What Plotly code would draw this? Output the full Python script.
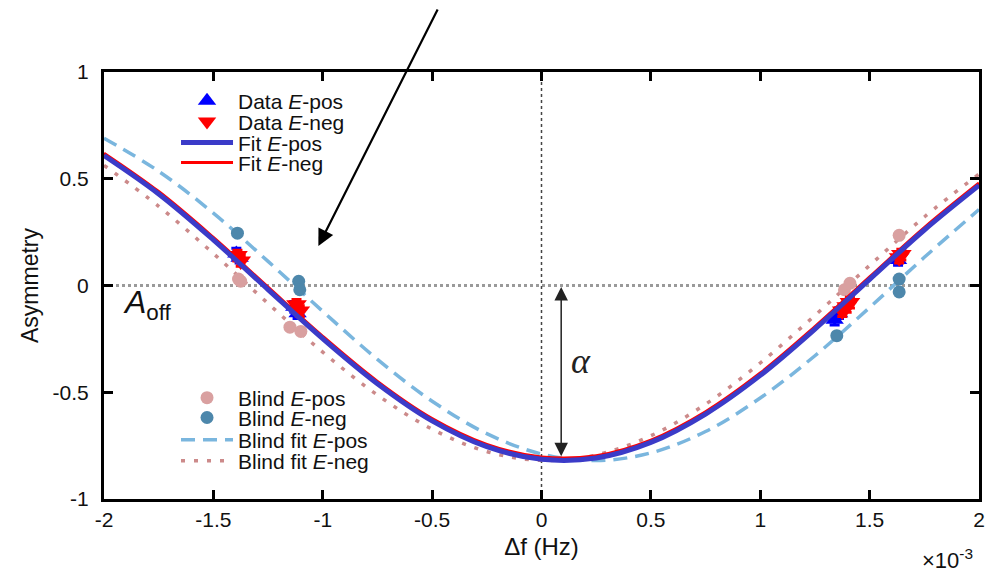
import plotly.graph_objects as go

# ---- data (x in units of 1e-3 Hz) ----
x_grid = [-2, -1.75, -1.5, -1.25, -1, -0.75, -0.5, -0.25, 0, 0.25, 0.5, 0.75, 1, 1.25, 1.5, 1.75, 2]
fit_pos = [0.609, 0.429, 0.214, -0.019, -0.249, -0.460, -0.634, -0.755, -0.814, -0.808, -0.735, -0.602, -0.421, -0.204, 0.029, 0.260, 0.469]
fit_neg = [0.620, 0.440, 0.225, -0.008, -0.238, -0.449, -0.623, -0.744, -0.803, -0.797, -0.724, -0.591, -0.410, -0.193, 0.040, 0.271, 0.480]
blind_fit_pos = [0.690, 0.535, 0.339, 0.113, -0.121, -0.346, -0.542, -0.694, -0.789, -0.820, -0.784, -0.684, -0.527, -0.329, -0.103, 0.132, 0.356]
blind_fit_neg = [0.563, 0.371, 0.150, -0.084, -0.312, -0.513, -0.673, -0.778, -0.819, -0.794, -0.704, -0.556, -0.363, -0.140, 0.094, 0.321, 0.522]

data_pos_x = [-1.395, -1.38, -1.13, -1.115, 1.34, 1.36, 1.63]
data_pos_y = [0.15, 0.13, -0.10, -0.13, -0.16, -0.13, 0.12]
data_pos_err = [0.025, 0.025, 0.025, 0.025, 0.025, 0.025, 0.025]

data_neg_x = [-1.39, -1.375, -1.12, -1.105, 1.375, 1.395, 1.41, 1.635, 1.645]
data_neg_y = [0.14, 0.115, -0.09, -0.12, -0.12, -0.10, -0.08, 0.13, 0.145]
data_neg_err = [0.025, 0.025, 0.025, 0.025, 0.025, 0.025, 0.025, 0.025, 0.025]

blind_pos_x = [-1.385, -1.375, -1.15, -1.10, 1.385, 1.41, 1.635]
blind_pos_y = [0.03, 0.02, -0.195, -0.215, -0.02, 0.01, 0.235]
blind_pos_err = [0.02, 0.02, 0.02, 0.02, 0.02, 0.02, 0.02]

blind_neg_x = [-1.39, -1.11, -1.105, 1.35, 1.635, 1.635]
blind_neg_y = [0.245, 0.02, -0.02, -0.235, 0.03, -0.03]
blind_neg_err = [0.02, 0.02, 0.02, 0.02, 0.02, 0.02]

x_ticks = [-2, -1.5, -1, -0.5, 0, 0.5, 1, 1.5, 2]
x_ticktext = ["-2", "-1.5", "-1", "-0.5", "0", "0.5", "1", "1.5", "2"]
y_ticks = [-1, -0.5, 0, 0.5, 1]
y_ticktext = ["-1", "-0.5", "0", "0.5", "1"]

FONT = "Liberation Sans, Arial, sans-serif"
C_BLUE = "#0000ff"
C_RED = "#ff0000"
C_FITPOS = "#3b3bc8"
C_BFPOS = "#7ab6de"
C_BFNEG = "#cc8a8a"
C_BPOS = "#d9a0a0"
C_BNEG = "#4d87ab"

fig = go.Figure()

# blind fits
fig.add_trace(go.Scatter(x=x_grid, y=blind_fit_pos, mode="lines",
                         line=dict(color=C_BFPOS, width=3.5, dash="14px,8px", shape="spline"),
                         name="Blind fit <i>E</i>-pos", legend="legend7"))
fig.add_trace(go.Scatter(x=x_grid, y=blind_fit_neg, mode="lines",
                         line=dict(color=C_BFNEG, width=3.5, dash="4px,9px", shape="spline"),
                         name="Blind fit <i>E</i>-neg", legend="legend8"))
# blind points
fig.add_trace(go.Scatter(x=blind_pos_x, y=blind_pos_y, mode="markers",
                         marker=dict(color=C_BPOS, size=13, symbol="circle"),
                         error_y=dict(type="data", array=blind_pos_err, color=C_BPOS, thickness=3, width=0),
                         name="Blind <i>E</i>-pos", legend="legend5"))
fig.add_trace(go.Scatter(x=blind_neg_x, y=blind_neg_y, mode="markers",
                         marker=dict(color=C_BNEG, size=13, symbol="circle"),
                         error_y=dict(type="data", array=blind_neg_err, color=C_BNEG, thickness=3, width=0),
                         name="Blind <i>E</i>-neg", legend="legend6"))
# data points
fig.add_trace(go.Scatter(x=data_pos_x, y=data_pos_y, mode="markers",
                         marker=dict(color=C_BLUE, size=16, symbol="triangle-up"),
                         error_y=dict(type="data", array=data_pos_err, color=C_BLUE, thickness=3, width=5),
                         name="Data <i>E</i>-pos", legend="legend"))
fig.add_trace(go.Scatter(x=data_neg_x, y=data_neg_y, mode="markers",
                         marker=dict(color=C_RED, size=18, symbol="triangle-down"),
                         error_y=dict(type="data", array=data_neg_err, color=C_RED, thickness=3, width=5),
                         name="Data <i>E</i>-neg", legend="legend2"))
# fits
fig.add_trace(go.Scatter(x=x_grid, y=fit_neg, mode="lines", line=dict(color=C_RED, width=3, shape="spline"),
                         name="Fit <i>E</i>-neg", legend="legend4"))
fig.add_trace(go.Scatter(x=x_grid, y=fit_pos, mode="lines", line=dict(color=C_FITPOS, width=5, shape="spline"),
                         name="Fit <i>E</i>-pos", legend="legend3"))

# reference lines
fig.add_shape(type="line", xref="x", yref="y", x0=-2, x1=2, y0=0, y1=0,
              line=dict(color="#9a9a9a", width=3, dash="dot"), layer="below")
fig.add_shape(type="line", xref="x", yref="y", x0=0, x1=0, y0=-1, y1=1,
              line=dict(color="#444444", width=1.5, dash="dot"), layer="below")

# annotations
fig.add_annotation(x=0.09, y=-0.8, ax=0.09, ay=0, xref="x", yref="y", axref="x", ayref="y",
                   text="", showarrow=True, arrowhead=2, arrowside="end+start", arrowsize=1.8,
                   arrowwidth=1.5, arrowcolor="#222222")
fig.add_annotation(x=-1.02, y=0.185, ax=120, ay=-242, xref="x", yref="y",
                   text="", showarrow=True, arrowhead=2, arrowsize=1.5, arrowwidth=2.2, arrowcolor="#000000")
fig.add_annotation(x=0.18, y=-0.355, xref="x", yref="y", text="<i>α</i>", showarrow=False,
                   font=dict(family="Liberation Serif, serif", size=36, color="#222"))
fig.add_annotation(x=-1.80, y=-0.09, xref="x", yref="y", text="<i>A</i><sub>off</sub>", showarrow=False,
                   font=dict(family=FONT, size=32, color="#111"))
fig.add_annotation(x=0.995, y=-0.102, xref="paper", yref="paper", xanchor="right", yanchor="top",
                   text="×10<sup>-3</sup>", showarrow=False, font=dict(family=FONT, size=22, color="#111"))

axis_common = dict(showline=True, linecolor="black", linewidth=3, mirror="ticks", ticks="inside",
                   ticklen=9, tickwidth=3, tickcolor="black", showgrid=False, zeroline=False,
                   tickfont=dict(family=FONT, size=21, color="#111"))

# one-item legends, placed like the reference's stacked key
legend_x = 0.0823
legend_rows = {"legend": 0.932, "legend2": 0.883, "legend3": 0.834, "legend4": 0.787,
               "legend5": 0.2365, "legend6": 0.190, "legend7": 0.138, "legend8": 0.089}
legend_layouts = {}
for name, ypos in legend_rows.items():
    legend_layouts[name] = dict(x=legend_x, y=ypos, xanchor="left", yanchor="middle", bgcolor="rgba(0,0,0,0)",
                                font=dict(family=FONT, size=21, color="#111"), itemwidth=52)

fig.update_layout(
    width=988, height=567,
    margin=dict(l=96, r=17, t=64, b=76),
    paper_bgcolor="white", plot_bgcolor="white",
    font=dict(family=FONT, color="#111"),
    xaxis=dict(range=[-2, 2], tickvals=x_ticks, ticktext=x_ticktext,
               title=dict(text="Δf (Hz)", font=dict(family=FONT, size=24), standoff=8), **axis_common),
    yaxis=dict(range=[-1, 1], tickvals=y_ticks, ticktext=y_ticktext, ticklabelstandoff=8,
               title=dict(text="Asymmetry", font=dict(family=FONT, size=23), standoff=8), **axis_common),
    showlegend=True,
    **legend_layouts,
)

fig.write_html("out.html")
